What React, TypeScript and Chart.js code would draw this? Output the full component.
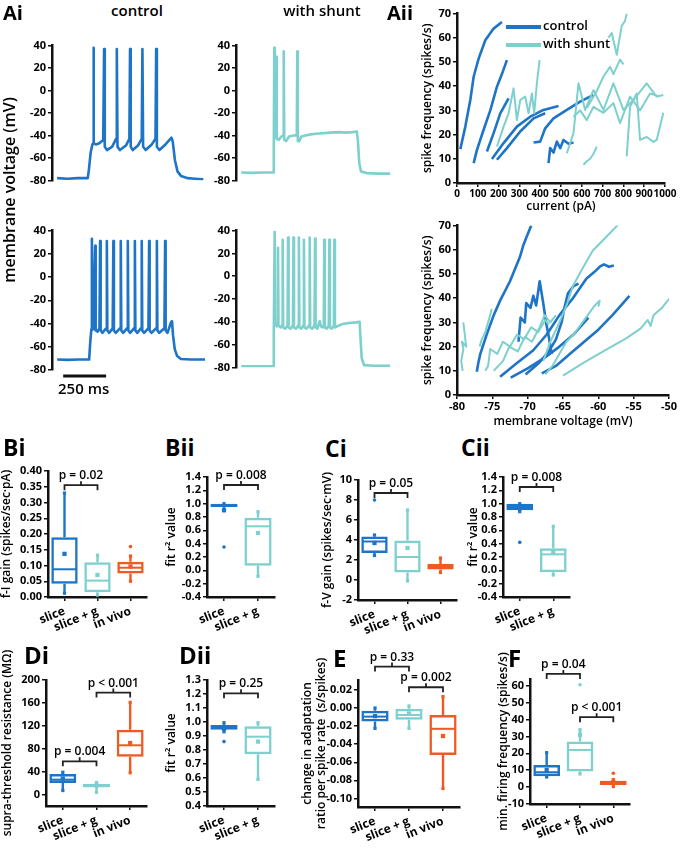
import React, { useEffect, useRef } from "react";
import { Chart, registerables } from "chart.js";

Chart.register(...registerables);

const FONT = "'Open Sans', 'DejaVu Sans', Arial, sans-serif";
Chart.defaults.font.family = FONT;
Chart.defaults.color = "#000";

const BLUE = "#1e74c6";
const TEAL = "#7dd0cd";
const ORANGE = "#f05a22";
const INK = "#111";
const CAT_COLORS = [BLUE, TEAL, ORANGE];

// ---------- Ai: membrane voltage traces [time ms, mV] ----------
const CTRL_TOP: number[][] = [
  [0, -78], [60, -78.5], [120, -78], [178, -78], [185, -70], [195, -55], [205, -48], [209, -47], [211, 38], [214, -47],
  [225, -48], [245, -47], [268, -44], [273, 37], [277, -50], [290, -53], [320, -50], [343, -43], [347, 37], [351, -50],
  [365, -53], [400, -49], [420, -43], [424, 37], [428, -50], [440, -53], [470, -49], [492, -43], [496, 37], [500, -50],
  [515, -53], [550, -48], [572, -43], [576, 37], [580, -50], [595, -53], [630, -48], [665, -42], [672, -45], [685, -62],
  [700, -72], [720, -76], [760, -78], [800, -78.5], [850, -79],
];
const SHUNT_TOP: number[][] = [
  [0, -73], [60, -73.3], [120, -73], [185, -73], [187, -50], [190, 38], [193, -42], [198, -40], [201, 30], [204, -43],
  [215, -44], [230, -41], [241, -40], [244, 35], [247, -44], [258, -45], [275, -41], [300, -40], [319, -40], [322, 35],
  [325, -45], [333, -45], [345, -41], [370, -40], [400, -39], [430, -38.5], [470, -38], [510, -37.5], [560, -37],
  [600, -37.5], [640, -37], [664, -36.5], [670, -45], [678, -65], [688, -72], [720, -73.5], [790, -74], [855, -74],
];
const CTRL_BOT: number[][] = [
  [0, -71], [60, -71.3], [120, -71], [186, -71], [193, -55], [199, -45], [202, 33], [205, -42], [210, -45], [221, 27],
  [224, -46], [235, -47], [246, -44], [250, 31], [253, -46], [264, -48], [285, -44], [289, 31], [292, -46], [303, -48],
  [323, -44], [327, 31], [330, -46], [341, -48], [366, -44], [370, 31], [373, -46], [384, -48], [407, -44], [411, 31],
  [414, -46], [425, -48], [448, -44], [452, 31], [455, -46], [466, -48], [488, -44], [492, 31], [495, -46], [506, -48],
  [531, -44], [535, 31], [538, -46], [549, -48], [576, -44], [580, 31], [583, -46], [594, -48], [624, -44], [628, 31],
  [631, -46], [642, -48], [662, -39], [668, -38], [674, -50], [684, -62], [698, -68], [720, -70.5], [780, -71], [860, -71],
];
const SHUNT_BOT: number[][] = [
  [0, -79], [80, -79], [184, -79], [187, -50], [192, 39], [195, -42], [205, -44], [209, -40], [211, 25], [214, -43],
  [225, -45], [235, -43], [238, 32], [241, -45], [252, -46], [266, -43], [269, 34], [272, -45], [283, -46], [297, -43],
  [300, 34], [303, -45], [314, -46], [328, -43], [331, 34], [334, -45], [345, -46], [357, -43], [360, 32], [363, -45],
  [374, -46], [390, -43], [393, 34], [396, -45], [407, -46], [421, -43], [424, 33], [427, -45], [438, -46], [446, -41],
  [451, -39.5], [458, -44], [468, -45], [474, -43], [477, 32], [480, -45], [491, -46], [503, -43], [506, 32], [509, -45],
  [520, -46], [532, -43], [535, 32], [538, -45], [550, -44], [580, -42], [620, -41], [660, -40.5], [680, -40], [685, -55],
  [692, -72], [705, -78], [760, -78.5], [855, -78.5],
];
const SCALE_BAR_MS = [35, 285];

// ---------- Aii: f-I curves [pA, spikes/s] ----------
const FI_CONTROL: number[][][] = [
  [[16, 14], [40, 23.3], [64, 34.3], [80, 43.9], [104, 51.4], [136, 59], [176, 63.8], [216, 66.5]],
  [[80, 8.2], [96, 13.7], [128, 22], [160, 30], [192, 39.8], [216, 45], [240, 50.8]],
  [[144, 13], [176, 20.6], [208, 28.8], [248, 35]],
  [[168, 9.9], [224, 16.5], [288, 23.3], [352, 27.4], [416, 30.2], [488, 31.8]],
  [[192, 9.6], [240, 14.4], [304, 21.3], [368, 26.7], [424, 28.8]],
  [[368, 16.7], [400, 17.1], [424, 22.6], [464, 26.7], [528, 30.2], [592, 33.6], [656, 36.4]],
  [[440, 8.2], [448, 14.4], [464, 12.6], [480, 17.1], [496, 14.4], [512, 17.8], [536, 16.2], [560, 16.7]],
];
const FI_SHUNT: number[][][] = [
  [[192, 15.1], [224, 23.3], [248, 28.8], [272, 39.1], [288, 26], [304, 34.3], [328, 35.7], [344, 28.8], [360, 37], [371, 28.8], [384, 41.2], [397, 50.8]],
  [[608, 7.5], [624, 9], [640, 10], [656, 12], [672, 15]],
  [[528, 12.3], [560, 20.6], [584, 41.2], [616, 30.2], [656, 38.4], [704, 30.2], [752, 41.2], [800, 30.2], [848, 34.3], [912, 41.2], [960, 35.7], [992, 36.4]],
  [[624, 31], [672, 38], [704, 44], [736, 48], [752, 45], [784, 51], [800, 49]],
  [[728, 60], [744, 62], [768, 53], [792, 65], [808, 67], [816, 70]],
  [[816, 11], [832, 31.5], [864, 37], [880, 17.8], [912, 19], [944, 17], [960, 17.8], [992, 29]],
  [[560, 27.4], [592, 30], [624, 26], [656, 31.5], [704, 29], [752, 33], [784, 24.7], [832, 35.7], [880, 30], [928, 37], [976, 35.7]],
];

// ---------- Aii: f-V curves [mV, spikes/s] ----------
const FV_CONTROL: number[][][] = [
  [[-77.2, 9.6], [-77, 13], [-76.7, 17], [-75.8, 25], [-74.8, 33], [-73.9, 39], [-72.5, 47], [-71.1, 57], [-70.6, 62], [-70.2, 65], [-69.5, 70]],
  [[-73.9, 7.5], [-71.6, 13], [-69.2, 18.5], [-67.3, 25], [-65.5, 33], [-63.6, 40], [-61.7, 48], [-60.5, 51], [-59.8, 53], [-59.2, 54], [-58.5, 53], [-57.8, 53.5]],
  [[-72.4, 7.2], [-70, 11], [-67.8, 15], [-65.5, 20], [-63.5, 25], [-61.4, 32]],
  [[-68, 8.9], [-66, 12], [-64, 17], [-62, 22], [-60, 27], [-58, 33], [-56.5, 38], [-55.6, 41]],
  [[-71.3, 22], [-71, 32], [-70.4, 30], [-70.2, 38], [-69.6, 36], [-69.2, 41], [-68.8, 37], [-68.3, 47], [-67.8, 38], [-67.4, 30], [-67, 24], [-66.6, 17]],
  [[-70.3, 8.5], [-68.5, 13], [-67, 18], [-66, 23], [-65.2, 30], [-64.8, 36], [-64.3, 42], [-63.5, 45], [-62.8, 46]],
];
const FV_SHUNT: number[][][] = [
  [[-79.2, 10], [-79.4, 14], [-79.1, 19], [-79.3, 22], [-78.7, 20], [-78.9, 25], [-79.1, 30]],
  [[-76.8, 20], [-76.5, 23], [-76, 26], [-75.6, 30], [-75.3, 33], [-75.1, 35.5]],
  [[-76, 10], [-75.6, 12], [-75.3, 19], [-74.3, 17], [-73.5, 22], [-72.5, 20], [-71.5, 25], [-70.5, 23], [-69.5, 28], [-68.5, 26], [-67.5, 31], [-67, 29]],
  [[-74.8, 10], [-73.5, 14], [-72.6, 20], [-71.4, 18], [-70.4, 24], [-69.4, 22], [-68.3, 28], [-67.6, 33], [-66.8, 30], [-66, 33]],
  [[-67.8, 14], [-66.8, 22], [-65.5, 30], [-64.5, 37], [-63.6, 45], [-62.3, 52], [-60.8, 59.6], [-59, 65], [-57, 71]],
  [[-65, 8], [-62, 13.5], [-59, 18.5], [-56, 23.5], [-54, 27.5], [-53, 31], [-52.6, 28.5], [-52.2, 33], [-51, 36], [-50.2, 39], [-49.5, 41]],
  [[-67.5, 8.5], [-66.5, 12], [-65.5, 17], [-64.5, 22], [-63.5, 25], [-62.5, 29], [-61.5, 33], [-60.5, 37], [-59.8, 39], [-60, 36.5]],
];

// ---------- Box plots ----------
const CATS3 = ["slice", "slice + g", "in vivo"];
const CATS2 = ["slice", "slice + g"];

const BI_LOW = [0.012, 0.006, 0.05];
const BI_Q1 = [0.042, 0.015, 0.075];
const BI_MED = [0.088, 0.052, 0.093];
const BI_Q3 = [0.19, 0.11, 0.112];
const BI_HIGH = [0.33, 0.133, 0.13];
const BI_MEAN = [0.137, 0.07, 0.097];
const BI_OUT = [[2, 0.16]];
const BI_P = [{ a: 0, b: 1, y: 0.355, text: "p = 0.02" }];

const BII_LOW = [0.9, -0.09];
const BII_Q1 = [0.95, 0.07];
const BII_MED = [0.98, 0.66];
const BII_Q3 = [1.0, 0.79];
const BII_HIGH = [1.0, 0.88];
const BII_MEAN = [0.9, 0.56];
const BII_OUT = [[0, 0.35]];
const BII_P = [{ a: 0, b: 1, y: 1.28, text: "p = 0.008" }];

const CI_LOW = [2.45, -0.1, 0.75];
const CI_Q1 = [2.7, 0.75, 1.05];
const CI_MED = [3.85, 2.3, 1.35];
const CI_Q3 = [4.35, 3.95, 1.6];
const CI_HIGH = [4.5, 7.0, 2.2];
const CI_MEAN = [3.7, 3.2, 1.3];
const CI_OUT = [[0, 8.0]];
const CI_P = [{ a: 0, b: 1, y: 8.7, text: "p = 0.05" }];

const CII_LOW = [0.88, -0.07];
const CII_Q1 = [0.9, -0.03];
const CII_MED = [0.95, 0.24];
const CII_Q3 = [1.0, 0.33];
const CII_HIGH = [1.0, 0.66];
const CII_MEAN = [0.93, 0.27];
const CII_OUT = [[0, 0.42]];
const CII_P = [{ a: 0, b: 1, y: 1.25, text: "p = 0.008" }];

const DI_LOW = [7, 4, 38];
const DI_Q1 = [20, 13, 66];
const DI_MED = [26, 14.5, 86];
const DI_Q3 = [36, 18.5, 113];
const DI_HIGH = [39, 21, 161];
const DI_MEAN = [28, 16, 90];
const DI_OUT: number[][] = [];
const DI_P = [
  { a: 0, b: 1, y: 58, text: "p = 0.004" },
  { a: 1, b: 2, y: 178, text: "p < 0.001" },
];

const DII_LOW = [0.93, 0.59];
const DII_Q1 = [0.945, 0.77];
const DII_MED = [0.96, 0.895];
const DII_Q3 = [0.978, 0.97];
const DII_HIGH = [0.995, 0.995];
const DII_MEAN = [0.95, 0.86];
const DII_OUT = [[0, 0.86]];
const DII_P = [{ a: 0, b: 1, y: 1.205, text: "p = 0.25" }];

const E_LOW = [-0.0225, -0.0225, -0.089];
const E_Q1 = [-0.015, -0.013, -0.052];
const E_MED = [-0.0095, -0.0077, -0.023];
const E_Q3 = [-0.003, -0.0007, -0.0077];
const E_HIGH = [0.0, 0.0023, 0.0126];
const E_MEAN = [-0.009, -0.006, -0.031];
const E_OUT: number[][] = [];
const E_P = [
  { a: 0, b: 1, y: 0.0458, text: "p = 0.33" },
  { a: 1, b: 2, y: 0.023, text: "p = 0.002" },
];

const F_LOW = [6, 7.8, 0.3];
const F_Q1 = [6.5, 9.2, 1.3];
const F_MED = [8.8, 22, 2.7];
const F_Q3 = [13.1, 27, 3.7];
const F_HIGH = [20.4, 34, 4.5];
const F_MEAN = [10.2, 31, 3];
const F_OUT = [[1, 60.6], [2, 8.2]];
const F_P = [
  { a: 0, b: 1, y: 67, text: "p = 0.04" },
  { a: 1, b: 2, y: 41.4, text: "p < 0.001" },
];

// ---------- shared styles ----------
const AXIS_BORDER = { display: true, color: INK, width: 2.5 };
const AXIS_GRID = { drawOnChartArea: false, drawTicks: true, tickLength: 4, color: INK, lineWidth: 1.5 };
const TICK_FONT = { size: 11, weight: "bold" as const };
const XCAT_FONT = { size: 12, weight: "bold" as const };
const TITLE_FONT = { size: 12, weight: "600" as const, lineHeight: 1.2 };

type Layout = { left: number; top: number; width: number; height: number };

function place(rect: number[], yW: number, xH: number, pt: number, pr: number): Layout {
  const [L, T, R, B] = rect;
  return { left: L - yW, top: T - pt, width: R - L + yW + pr, height: B - T + pt + xH };
}

function ChartCanvas({ layout, make }: { layout: Layout; make: () => any }) {
  const ref = useRef<HTMLCanvasElement | null>(null);
  useEffect(() => {
    const chart = new Chart(ref.current as HTMLCanvasElement, make());
    return () => chart.destroy();
  }, []);
  return (
    <canvas
      ref={ref}
      width={layout.width}
      height={layout.height}
      style={{ position: "absolute", left: layout.left, top: layout.top, width: layout.width, height: layout.height }}
    />
  );
}

// ---------- Ai trace charts ----------
type TraceSpec = { rect: number[]; pts: number[][]; color: string; pb: number; scaleBar?: boolean };
const TR_YW = 40;
const TR_PT = 8;
const TR_PR = 4;

const scaleBarPlugin = {
  id: "scaleBar",
  afterDraw(chart: any) {
    const { ctx, scales, chartArea } = chart;
    const x0 = scales.x.getPixelForValue(SCALE_BAR_MS[0]);
    const x1 = scales.x.getPixelForValue(SCALE_BAR_MS[1]);
    const y = chartArea.bottom + 6;
    ctx.save();
    ctx.strokeStyle = INK;
    ctx.lineWidth = 3;
    ctx.beginPath();
    ctx.moveTo(x0, y);
    ctx.lineTo(x1, y);
    ctx.stroke();
    ctx.fillStyle = "#000";
    ctx.font = `600 15px ${FONT}`;
    ctx.textAlign = "center";
    ctx.textBaseline = "alphabetic";
    ctx.fillText("250 ms", (x0 + x1) / 2 - 1, y + 18);
    ctx.restore();
  },
};

function traceConfig(s: TraceSpec) {
  return {
    type: "line",
    data: {
      datasets: [
        {
          data: s.pts.map(([x, y]) => ({ x, y })),
          borderColor: s.color,
          borderWidth: 2.6,
          pointRadius: 0,
          tension: 0,
          fill: false,
          borderJoinStyle: "round",
        },
      ],
    },
    options: {
      animation: false,
      responsive: false,
      devicePixelRatio: 1,
      events: [],
      layout: { autoPadding: false, padding: { left: 0, top: TR_PT, right: TR_PR, bottom: s.pb } },
      plugins: { legend: { display: false }, tooltip: { enabled: false } },
      scales: {
        x: { type: "linear", min: -30, max: 860, display: false },
        y: {
          type: "linear",
          min: -80,
          max: 40,
          ticks: { stepSize: 20, autoSkip: false, font: TICK_FONT, padding: 2, color: "#000" },
          border: AXIS_BORDER,
          grid: AXIS_GRID,
          afterFit: (sc: any) => {
            sc.width = TR_YW;
          },
        },
      },
    },
    plugins: s.scaleBar ? [scaleBarPlugin] : [],
  };
}

const TRACES: TraceSpec[] = [
  { rect: [52, 45, 205, 183], pts: CTRL_TOP, color: BLUE, pb: 6 },
  { rect: [236, 45, 391, 183], pts: SHUNT_TOP, color: TEAL, pb: 6 },
  { rect: [52, 230, 205, 370], pts: CTRL_BOT, color: BLUE, pb: 30, scaleBar: true },
  { rect: [236, 230, 391, 370], pts: SHUNT_BOT, color: TEAL, pb: 6 },
];

// ---------- Aii f-I / f-V charts ----------
type CurveSpec = {
  rect: number[];
  ctrl: number[][][];
  shunt: number[][][];
  xMin: number;
  xMax: number;
  xStep: number;
  xTitle: string;
  xH: number;
  xFont: number;
};
const CV_YW = 37;
const CV_PT = 8;
const CV_PR = 14;

function curveConfig(s: CurveSpec) {
  const ds: any[] = [];
  s.shunt.forEach((c) =>
    ds.push({ data: c.map(([x, y]) => ({ x, y })), borderColor: TEAL, borderWidth: 2, pointRadius: 0, tension: 0, borderJoinStyle: "round" })
  );
  s.ctrl.forEach((c) =>
    ds.push({ data: c.map(([x, y]) => ({ x, y })), borderColor: BLUE, borderWidth: 2.6, pointRadius: 0, tension: 0, borderJoinStyle: "round" })
  );
  return {
    type: "line",
    data: { datasets: ds },
    options: {
      animation: false,
      responsive: false,
      devicePixelRatio: 1,
      events: [],
      layout: { autoPadding: false, padding: { left: 0, top: CV_PT, right: CV_PR, bottom: 0 } },
      plugins: { legend: { display: false }, tooltip: { enabled: false } },
      scales: {
        x: {
          type: "linear",
          min: s.xMin,
          max: s.xMax,
          ticks: {
            stepSize: s.xStep,
            autoSkip: false,
            maxRotation: 0,
            font: { size: s.xFont, weight: "bold" },
            padding: 1,
            color: "#000",
            callback: (v: any) => String(Math.round(Number(v))),
          },
          border: AXIS_BORDER,
          grid: AXIS_GRID,
          title: { display: true, text: s.xTitle, font: TITLE_FONT, padding: { top: 0, bottom: 0 }, color: "#000" },
          afterFit: (sc: any) => {
            sc.height = s.xH;
          },
        },
        y: {
          type: "linear",
          min: 0,
          max: 70,
          ticks: { stepSize: 10, autoSkip: false, font: TICK_FONT, padding: 2, color: "#000" },
          border: AXIS_BORDER,
          grid: AXIS_GRID,
          title: { display: true, text: "spike frequency (spikes/s)", font: TITLE_FONT, padding: { top: 0, bottom: 0 }, color: "#000" },
          afterFit: (sc: any) => {
            sc.width = CV_YW;
          },
        },
      },
    },
  };
}

const CURVES: CurveSpec[] = [
  { rect: [457, 13, 665, 183], ctrl: FI_CONTROL, shunt: FI_SHUNT, xMin: 0, xMax: 1000, xStep: 100, xTitle: "current (pA)", xH: 31, xFont: 10 },
  { rect: [457, 225, 669, 395], ctrl: FV_CONTROL, shunt: FV_SHUNT, xMin: -80, xMax: -50, xStep: 5, xTitle: "membrane voltage (mV)", xH: 34, xFont: 11 },
];

// ---------- box plot charts ----------
type Bracket = { a: number; b: number; y: number; text: string };
type BoxSpec = {
  rect: number[];
  yW: number;
  pt: number;
  pr: number;
  xH: number;
  cats: string[];
  low: number[];
  q1: number[];
  med: number[];
  q3: number[];
  high: number[];
  mean: number[];
  out: number[][];
  yMin: number;
  yMax: number;
  step: number;
  dec: number;
  title: string | string[];
  brackets: Bracket[];
};

function boxPlugin(s: BoxSpec) {
  return {
    id: "boxExtras",
    afterDatasetsDraw(chart: any) {
      const { ctx } = chart;
      const x = chart.scales.x;
      const y = chart.scales.y;
      const meta = chart.getDatasetMeta(0);
      ctx.save();
      s.cats.forEach((_c, i) => {
        const bar = meta.data[i];
        const cx = x.getPixelForValue(i);
        const hw = bar.width / 2;
        const col = CAT_COLORS[i];
        ctx.strokeStyle = col;
        ctx.lineWidth = 2.4;
        ctx.beginPath();
        ctx.moveTo(cx, y.getPixelForValue(s.q3[i]));
        ctx.lineTo(cx, y.getPixelForValue(s.high[i]));
        ctx.moveTo(cx, y.getPixelForValue(s.q1[i]));
        ctx.lineTo(cx, y.getPixelForValue(s.low[i]));
        ctx.stroke();
        ctx.lineWidth = 2;
        const ym = y.getPixelForValue(s.med[i]);
        ctx.beginPath();
        ctx.moveTo(cx - hw + 1, ym);
        ctx.lineTo(cx + hw - 1, ym);
        ctx.stroke();
        ctx.fillStyle = col;
        [s.low[i], s.high[i]].forEach((v) => {
          const yy = y.getPixelForValue(v);
          ctx.fillRect(cx - 1.6, yy - 1.6, 3.2, 3.2);
        });
      });
      ctx.strokeStyle = "#222";
      ctx.lineWidth = 1.8;
      ctx.fillStyle = "#000";
      ctx.font = `600 12px ${FONT}`;
      ctx.textAlign = "center";
      ctx.textBaseline = "alphabetic";
      s.brackets.forEach((b) => {
        const xa = x.getPixelForValue(b.a);
        const xb = x.getPixelForValue(b.b);
        const yy = y.getPixelForValue(b.y);
        const xm = (xa + xb) / 2;
        ctx.beginPath();
        ctx.moveTo(xa, yy + 5);
        ctx.lineTo(xa, yy);
        ctx.lineTo(xb, yy);
        ctx.lineTo(xb, yy + 5);
        ctx.moveTo(xm, yy);
        ctx.lineTo(xm, yy - 4);
        ctx.stroke();
        ctx.fillText(b.text, xm, yy - 6);
      });
      ctx.restore();
    },
  };
}

function boxConfig(s: BoxSpec) {
  const colors = s.cats.map((_c, i) => CAT_COLORS[i]);
  const fmt = (v: any) => {
    const n = Number(v);
    return Math.abs(n) < 1e-9 ? (0).toFixed(s.dec) : n.toFixed(s.dec);
  };
  return {
    type: "bar",
    data: {
      labels: s.cats,
      datasets: [
        {
          type: "bar",
          data: s.q1.map((v, i) => [v, s.q3[i]]),
          backgroundColor: "rgba(255,255,255,0)",
          borderColor: colors,
          borderWidth: 2.5,
          borderSkipped: false,
          barPercentage: 0.8,
          categoryPercentage: 1,
          order: 2,
        },
        {
          type: "line",
          data: s.mean,
          showLine: false,
          pointStyle: "rect",
          pointRadius: 3,
          pointBackgroundColor: colors,
          pointBorderWidth: 0,
          order: 1,
        },
        {
          type: "line",
          data: s.out.map(([c, v]) => ({ x: s.cats[c], y: v })),
          showLine: false,
          pointStyle: "circle",
          pointRadius: 1.8,
          pointBackgroundColor: s.out.map(([c]) => CAT_COLORS[c]),
          pointBorderWidth: 0,
          order: 0,
        },
      ],
    },
    options: {
      animation: false,
      responsive: false,
      devicePixelRatio: 1,
      events: [],
      layout: { autoPadding: false, padding: { left: 0, top: s.pt, right: s.pr, bottom: 0 } },
      plugins: { legend: { display: false }, tooltip: { enabled: false } },
      scales: {
        x: {
          type: "category",
          offset: true,
          ticks: { autoSkip: false, minRotation: 22, maxRotation: 22, font: XCAT_FONT, padding: 3, color: "#000" },
          border: AXIS_BORDER,
          grid: { ...AXIS_GRID, offset: false },
          afterFit: (sc: any) => {
            sc.height = s.xH;
          },
        },
        y: {
          type: "linear",
          min: s.yMin,
          max: s.yMax,
          ticks: { stepSize: s.step, includeBounds: false, autoSkip: false, font: TICK_FONT, padding: 2, color: "#000", callback: fmt },
          border: AXIS_BORDER,
          grid: AXIS_GRID,
          title: {
            display: true,
            text: s.title,
            font: { size: 12, weight: "600", lineHeight: 1.17 },
            padding: { top: 0, bottom: 0 },
            color: "#000",
          },
          afterFit: (sc: any) => {
            sc.width = s.yW;
          },
        },
      },
    },
    plugins: [boxPlugin(s)],
  };
}

const BOXES: BoxSpec[] = [
  { rect: [48, 471, 147, 597], yW: 48, pt: 10, pr: 6, xH: 36, cats: CATS3, low: BI_LOW, q1: BI_Q1, med: BI_MED, q3: BI_Q3, high: BI_HIGH, mean: BI_MEAN, out: BI_OUT, yMin: 0, yMax: 0.4, step: 0.05, dec: 2, title: "f-I gain (spikes/sec·pA)", brackets: BI_P },
  { rect: [207, 477, 275, 597], yW: 42, pt: 10, pr: 8, xH: 36, cats: CATS2, low: BII_LOW, q1: BII_Q1, med: BII_MED, q3: BII_Q3, high: BII_HIGH, mean: BII_MEAN, out: BII_OUT, yMin: -0.4, yMax: 1.4, step: 0.2, dec: 1, title: "fit r² value", brackets: BII_P },
  { rect: [358, 480, 457, 600], yW: 37, pt: 10, pr: 6, xH: 36, cats: CATS3, low: CI_LOW, q1: CI_Q1, med: CI_MED, q3: CI_Q3, high: CI_HIGH, mean: CI_MEAN, out: CI_OUT, yMin: -2, yMax: 10, step: 2, dec: 0, title: "f-V gain (spikes/sec·mV)", brackets: CI_P },
  { rect: [503, 477, 570, 597], yW: 36, pt: 10, pr: 8, xH: 36, cats: CATS2, low: CII_LOW, q1: CII_Q1, med: CII_MED, q3: CII_Q3, high: CII_HIGH, mean: CII_MEAN, out: CII_OUT, yMin: -0.4, yMax: 1.4, step: 0.2, dec: 1, title: "fit r² value", brackets: CII_P },
  { rect: [46, 680, 147, 806], yW: 45, pt: 40, pr: 6, xH: 44, cats: CATS3, low: DI_LOW, q1: DI_Q1, med: DI_MED, q3: DI_Q3, high: DI_HIGH, mean: DI_MEAN, out: DI_OUT, yMin: -20, yMax: 200, step: 40, dec: 0, title: "supra-threshold resistance (MΩ)", brackets: DI_P },
  { rect: [207, 680, 275, 806], yW: 42, pt: 12, pr: 8, xH: 40, cats: CATS2, low: DII_LOW, q1: DII_Q1, med: DII_MED, q3: DII_Q3, high: DII_HIGH, mean: DII_MEAN, out: DII_OUT, yMin: 0.4, yMax: 1.3, step: 0.1, dec: 1, title: "fit r² value", brackets: DII_P },
  { rect: [358, 680, 460, 807], yW: 57, pt: 40, pr: 6, xH: 42, cats: CATS3, low: E_LOW, q1: E_Q1, med: E_MED, q3: E_Q3, high: E_HIGH, mean: E_MEAN, out: E_OUT, yMin: -0.1095, yMax: 0.031, step: 0.02, dec: 2, title: ["change in adaptation", "ratio per spike rate  (s/spikes)"], brackets: E_P },
  { rect: [530, 679, 630, 804], yW: 33, pt: 32, pr: 8, xH: 44, cats: CATS3, low: F_LOW, q1: F_Q1, med: F_MED, q3: F_Q3, high: F_HIGH, mean: F_MEAN, out: F_OUT, yMin: -10, yMax: 64, step: 10, dec: 0, title: "min. firing frequency (spikes/s)", brackets: F_P },
];

// ---------- text labels ----------
type Label = { text: string; left: number; top: number; size: number; weight: number; center?: boolean };
const LABELS: Label[] = [
  { text: "Ai", left: 3, top: 3, size: 20, weight: 700 },
  { text: "control", left: 137, top: 3, size: 15, weight: 600, center: true },
  { text: "with shunt", left: 322, top: 3, size: 15, weight: 600, center: true },
  { text: "Aii", left: 387, top: 3, size: 20, weight: 700 },
  { text: "control", left: 543, top: 19, size: 13, weight: 600 },
  { text: "with shunt", left: 543, top: 37, size: 13, weight: 600 },
  { text: "Bi", left: 3, top: 436, size: 23, weight: 700 },
  { text: "Bii", left: 165, top: 436, size: 23, weight: 700 },
  { text: "Ci", left: 325, top: 437, size: 23, weight: 700 },
  { text: "Cii", left: 461, top: 436, size: 23, weight: 700 },
  { text: "Di", left: 24, top: 643, size: 24, weight: 700 },
  { text: "Dii", left: 179, top: 643, size: 24, weight: 700 },
  { text: "E", left: 333, top: 646, size: 24, weight: 700 },
  { text: "F", left: 508, top: 646, size: 24, weight: 700 },
];

export default function App() {
  return (
    <div style={{ position: "absolute", left: 0, top: 0, width: 682, height: 850, background: "#fff", overflow: "hidden", fontFamily: FONT }}>
      {TRACES.map((s, i) => (
        <ChartCanvas key={"t" + i} layout={place(s.rect, TR_YW, s.pb, TR_PT, TR_PR)} make={() => traceConfig(s)} />
      ))}
      {CURVES.map((s, i) => (
        <ChartCanvas key={"c" + i} layout={place(s.rect, CV_YW, s.xH, CV_PT, CV_PR)} make={() => curveConfig(s)} />
      ))}
      {BOXES.map((s, i) => (
        <ChartCanvas key={"b" + i} layout={place(s.rect, s.yW, s.xH, s.pt, s.pr)} make={() => boxConfig(s)} />
      ))}
      <div
        style={{
          position: "absolute",
          left: 9 - 110,
          top: 190 - 11,
          width: 220,
          height: 22,
          lineHeight: "22px",
          textAlign: "center",
          fontSize: 16,
          fontWeight: 600,
          transform: "rotate(-90deg)",
          whiteSpace: "nowrap",
        }}
      >
        membrane voltage (mV)
      </div>
      <div style={{ position: "absolute", left: 506, top: 25, width: 35, height: 4, background: BLUE }} />
      <div style={{ position: "absolute", left: 506, top: 43, width: 35, height: 4, background: TEAL }} />
      {LABELS.map((l, i) => (
        <div
          key={"l" + i}
          style={{
            position: "absolute",
            left: l.left,
            top: l.top,
            fontSize: l.size,
            fontWeight: l.weight,
            lineHeight: 1,
            whiteSpace: "nowrap",
            transform: l.center ? "translateX(-50%)" : undefined,
          }}
        >
          {l.text}
        </div>
      ))}
    </div>
  );
}
